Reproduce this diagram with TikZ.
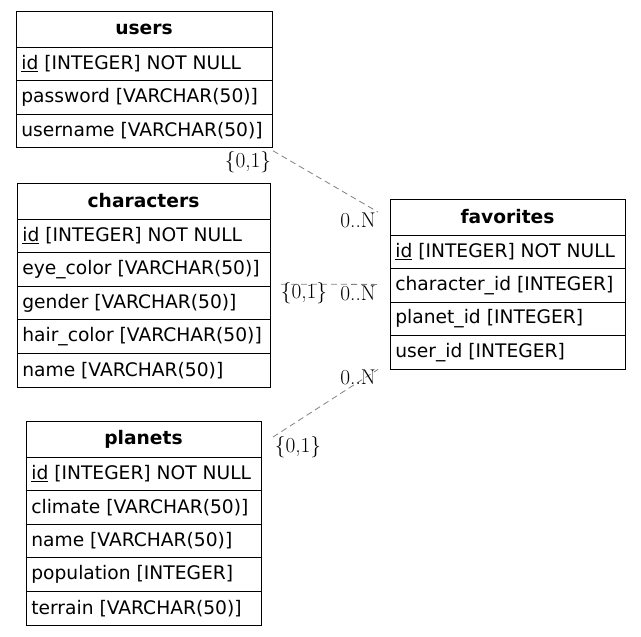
\documentclass[tikz,border=0pt]{standalone}
\usepackage{fontspec}
\newfontfamily\tabfont{DejaVu Sans}
\usepackage{tikz}
\usetikzlibrary{positioning}

\begin{document}
\begin{tikzpicture}[x=0.75pt, y=-0.75pt,
        tabhead/.style={draw, line width=0.75pt, anchor=north west, text width=#1, align=center,
            minimum height=27pt, inner xsep=4pt, inner ysep=0pt, outer sep=0pt,
            font=\tabfont\bfseries\fontsize{14}{16}\selectfont},
        tabrow/.style={draw, line width=0.75pt, text width=#1, align=flush left,
            minimum height=25.2pt, inner xsep=4pt, inner ysep=0pt, outer sep=0pt,
            font=\tabfont\fontsize{14}{16}\selectfont},
        card/.style={inner sep=0pt, font=\fontsize{16}{18}\selectfont},
        rel/.style={gray, line width=0.6pt, dash pattern=on 4.5pt off 3pt}]
    \useasboundingbox (0,0) rectangle (641,636);

    \node [tabhead=184pt] (users) at (16,11) {users};
    \node [tabrow=184pt, below=0pt of users] (users-id) {\underline{id} [INTEGER] NOT NULL};
    \node [tabrow=184pt, below=0pt of users-id] (users-password) {password [VARCHAR(50)]};
    \node [tabrow=184pt, below=0pt of users-password] (users-username) {username [VARCHAR(50)]};

    \node [tabhead=181.75pt] (chars) at (17,183) {characters};
    \node [tabrow=181.75pt, below=0pt of chars] (chars-id) {\underline{id} [INTEGER] NOT NULL};
    \node [tabrow=181.75pt, below=0pt of chars-id] (chars-eye) {eye\_color [VARCHAR(50)]};
    \node [tabrow=181.75pt, below=0pt of chars-eye] (chars-gender) {gender [VARCHAR(50)]};
    \node [tabrow=181.75pt, below=0pt of chars-gender] (chars-hair) {hair\_color [VARCHAR(50)]};
    \node [tabrow=181.75pt, below=0pt of chars-hair] (chars-name) {name [VARCHAR(50)]};

    \node [tabhead=168.25pt] (fav) at (390,199) {favorites};
    \node [tabrow=168.25pt, below=0pt of fav] (fav-id) {\underline{id} [INTEGER] NOT NULL};
    \node [tabrow=168.25pt, below=0pt of fav-id] (fav-char) {character\_id [INTEGER]};
    \node [tabrow=168.25pt, below=0pt of fav-char] (fav-planet) {planet\_id [INTEGER]};
    \node [tabrow=168.25pt, below=0pt of fav-planet] (fav-user) {user\_id [INTEGER]};

    \node [tabhead=168.25pt] (planets) at (26,421) {planets};
    \node [tabrow=168.25pt, below=0pt of planets] (planets-id) {\underline{id} [INTEGER] NOT NULL};
    \node [tabrow=168.25pt, below=0pt of planets-id] (planets-climate) {climate [VARCHAR(50)]};
    \node [tabrow=168.25pt, below=0pt of planets-climate] (planets-name) {name [VARCHAR(50)]};
    \node [tabrow=168.25pt, below=0pt of planets-name] (planets-pop) {population [INTEGER]};
    \node [tabrow=168.25pt, below=0pt of planets-pop] (planets-terrain) {terrain [VARCHAR(50)]};

    \draw [rel] ([shift={(1,3)}]users-username.south east) -- ([shift={(-12,13)}]fav.north west);
    \draw [rel] ([shift={(11,-2)}]chars-eye.south east) -- ([shift={(-12,-1)}]fav-char.west);
    \draw [rel] ([shift={(12,16)}]planets.north east) -- ([shift={(-12,0)}]fav-user.south west);

    \node [card] (users-card) at (248,162) {\{0,1\}};
    \node [card] (fav-card-u) at (358,220) {0..N};
    \node [card] (chars-card) at (304,293) {\{0,1\}};
    \node [card] (fav-card-c) at (358,293) {0..N};
    \node [card] (fav-card-p) at (358,377) {0..N};
    \node [card] (planets-card) at (298,447) {\{0,1\}};
\end{tikzpicture}
\end{document}
